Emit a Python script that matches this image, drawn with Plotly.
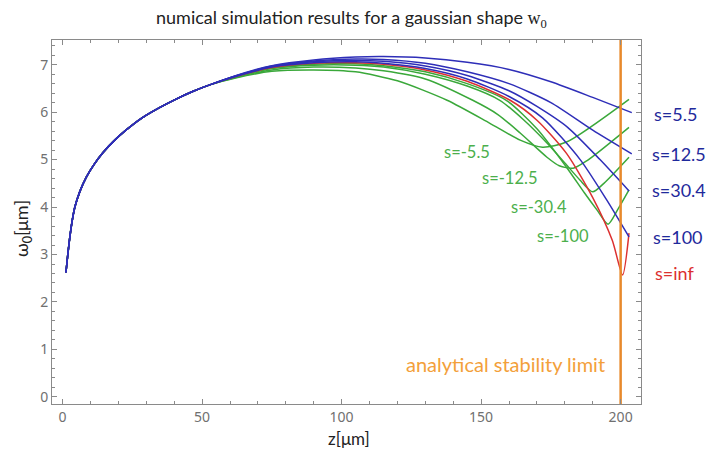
import plotly.graph_objects as go

# ---- data ----
z_common = [1.2, 1.9, 2.6, 3.4, 4.4, 6.2, 8.6, 11.3, 14.5, 18.5, 22.9, 28.5, 34.9, 40.5, 46.8, 53]
w_common = [2.62, 3.02, 3.37, 3.70, 4.0, 4.33, 4.64, 4.90, 5.15, 5.40, 5.63, 5.88, 6.10, 6.27, 6.44, 6.58]

z_s5_5 = z_common + [62, 75, 90, 105, 115, 130, 145, 160, 175, 190, 204]
w_s5_5 = w_common + [6.77, 6.98, 7.10, 7.16, 7.17, 7.14, 7.05, 6.90, 6.64, 6.31, 5.99]

z_s12_5 = z_common + [62, 75, 90, 105, 115, 130, 145, 160, 175, 190, 204]
w_s12_5 = w_common + [6.76, 6.97, 7.08, 7.12, 7.11, 7.03, 6.85, 6.60, 6.20, 5.62, 5.12]

z_s30_4 = z_common + [62, 75, 90, 105, 115, 130, 145, 160, 170, 181, 192.6, 203]
w_s30_4 = w_common + [6.76, 6.96, 7.06, 7.09, 7.07, 6.97, 6.77, 6.45, 6.12, 5.68, 5.00, 4.34]

z_s100 = z_common + [62, 75, 90, 105, 115, 130, 145, 160, 172, 185.5, 195, 203]
w_s100 = w_common + [6.75, 6.95, 7.04, 7.06, 7.03, 6.92, 6.70, 6.33, 5.88, 5.00, 4.15, 3.37]

z_sinf = z_common + [62, 75, 90, 105, 115, 130, 145, 160.4, 170, 180.6, 190, 197, 200.7, 203]
w_sinf = w_common + [6.75, 6.94, 7.03, 7.04, 7.01, 6.89, 6.65, 6.25, 5.83, 5.13, 4.20, 3.30, 2.57, 3.45]

z_sm100 = z_common + [62, 75, 90, 105, 115, 130, 145, 159, 170, 180.6, 187, 191.5, 195.5, 199, 203]
w_sm100 = w_common + [6.75, 6.93, 7.01, 7.02, 6.98, 6.85, 6.60, 6.25, 5.65, 4.84, 4.30, 3.94, 3.64, 3.95, 4.36]

z_sm30_4 = z_common + [62, 75, 90, 105, 115, 130, 145, 156.7, 165, 173.6, 180, 185.4, 190, 194, 203]
w_sm30_4 = w_common + [6.74, 6.92, 6.99, 6.99, 6.95, 6.80, 6.55, 6.25, 5.85, 5.35, 4.93, 4.57, 4.32, 4.50, 5.05]

z_sm12_5 = z_common + [62, 75, 90, 105, 115, 130, 147, 156, 164, 173.6, 178, 183, 188, 203]
w_sm12_5 = w_common + [6.73, 6.89, 6.95, 6.93, 6.87, 6.70, 6.25, 5.95, 5.56, 5.05, 4.87, 4.82, 4.98, 5.68]

z_sm5_5 = z_common + [62, 75, 90, 105, 120, 137.8, 153, 164, 172, 180.6, 203]
w_sm5_5 = w_common + [6.72, 6.86, 6.89, 6.85, 6.66, 6.25, 5.77, 5.41, 5.26, 5.37, 6.27]

stability_limit = 200

blue_labels = ["s=5.5", "s=12.5", "s=30.4", "s=100"]
green_labels = ["s=-5.5", "s=-12.5", "s=-30.4", "s=-100"]
red_label = "s=inf"

# ---- styling ----
BLUE = "#2e2eb8"
BLUE_TXT = "#1f2a9c"
GREEN = "#3aa83a"
GREEN_TXT = "#4caf4c"
RED = "#dc3030"
ORANGE = "#e8892b"
ORANGE_TXT = "#f3a03a"

fig = go.Figure()

series = [
    (z_sm5_5, w_sm5_5, GREEN), (z_sm12_5, w_sm12_5, GREEN),
    (z_sm30_4, w_sm30_4, GREEN), (z_sm100, w_sm100, GREEN),
    (z_sinf, w_sinf, RED),
    (z_s100, w_s100, BLUE), (z_s30_4, w_s30_4, BLUE),
    (z_s12_5, w_s12_5, BLUE), (z_s5_5, w_s5_5, BLUE),
]
for zs, ws, c in series:
    fig.add_trace(go.Scatter(x=zs, y=ws, mode="lines",
                             line=dict(color=c, width=1.5, shape="spline", smoothing=0.7),
                             showlegend=False, hoverinfo="skip"))

# analytical stability limit line
fig.add_trace(go.Scatter(x=[stability_limit, stability_limit], y=[-0.15, 7.52], mode="lines",
                         line=dict(color=ORANGE, width=2.5), showlegend=False, hoverinfo="skip"))

# plot area in pixels: x 52..641, y 40..404
L, R, T, B = 52, 641, 40, 404
W, H = 709, 452
def px(x):
    return (x - L) / (R - L)
def py(y):
    return (B - y) / (B - T)

ann = []
blue_pos = [(675, 114), (679, 154), (679, 190), (678, 237)]
for t, (x, y) in zip(blue_labels, blue_pos):
    ann.append(dict(text=t, x=px(x), y=py(y), font=dict(color=BLUE_TXT, size=18)))
ann.append(dict(text=red_label, x=px(674), y=py(273), font=dict(color=RED, size=18)))
green_pos = [(467, 152), (509, 178), (539, 207), (563, 236)]
for t, (x, y) in zip(green_labels, green_pos):
    ann.append(dict(text=t, x=px(x), y=py(y), font=dict(color=GREEN_TXT, size=16.5)))
ann.append(dict(text="analytical stability limit", x=px(505), y=py(364),
                font=dict(color=ORANGE_TXT, size=20)))
ann.append(dict(text="numical simulation results for a gaussian shape "
                     "<span style='font-family:Liberation Serif'>w<sub>0</sub></span>",
                x=px(351), y=py(19), font=dict(color="#222222", size=18)))
ann.append(dict(text="z[μm]", x=px(349), y=py(438), font=dict(color="#222222", size=17)))
ann.append(dict(text="ω<sub>0</sub>[μm]", x=px(23), y=py(229), textangle=-90,
                font=dict(color="#222222", size=18)))
for a in ann:
    a.update(xref="paper", yref="paper", showarrow=False, xanchor="center", yanchor="middle")
    a["font"].setdefault("family", "Lato")

axis_common = dict(
    showline=True, linecolor="#8a8a8a", linewidth=1, mirror="allticks",
    ticks="inside", ticklen=5, tickcolor="#8a8a8a", tickwidth=1,
    showgrid=False, zeroline=False,
    tickfont=dict(family="Noto Sans", size=14, color="#707070"),
)

fig.update_layout(
    width=W, height=H,
    margin=dict(l=L, r=W - R, t=T, b=H - B),
    paper_bgcolor="white", plot_bgcolor="white",
    annotations=ann,
    xaxis=dict(range=[-3.8, 207.3], tickvals=[0, 50, 100, 150, 200],
               minor=dict(dtick=10, tick0=0, ticks="inside", ticklen=3, tickcolor="#8a8a8a"),
               **axis_common),
    yaxis=dict(range=[-0.15, 7.52], tickvals=list(range(0, 8)),
               minor=dict(dtick=0.2, tick0=0, ticks="inside", ticklen=3, tickcolor="#8a8a8a"),
               **axis_common),
)

fig.write_html("out.html")
